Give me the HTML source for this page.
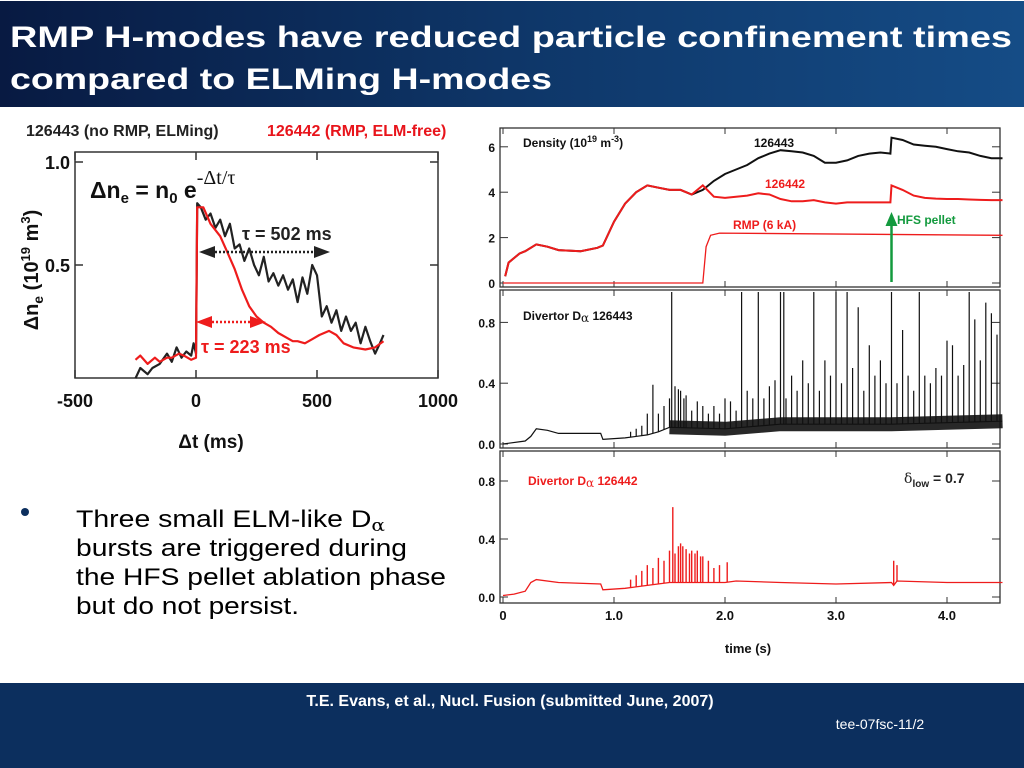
<!DOCTYPE html>
<html><head><meta charset="utf-8"><style>
html,body{margin:0;padding:0;background:#fff;}
svg{display:block;font-family:"Liberation Sans",Arial,sans-serif;}
</style></head><body>
<svg id="s" width="1024" height="768" viewBox="0 0 1024 768" xmlns="http://www.w3.org/2000/svg">
<defs>
<linearGradient id="hg" x1="0" x2="1" y1="0" y2="0"><stop offset="0" stop-color="#081a42"/><stop offset="0.5" stop-color="#0e3668"/><stop offset="1" stop-color="#154c86"/></linearGradient>
</defs>
<rect x="0" y="1" width="1024" height="106" fill="url(#hg)"/>
<text x="10" y="47" fill="#fff" font-size="30" font-weight="bold" textLength="1002" lengthAdjust="spacingAndGlyphs">RMP H-modes have reduced particle confinement times</text>
<text x="10" y="89" fill="#fff" font-size="30" font-weight="bold" textLength="542" lengthAdjust="spacingAndGlyphs">compared to ELMing H-modes</text>
<rect x="0" y="683" width="1024" height="85" fill="#0c2f5e"/>
<text x="510" y="706" fill="#fff" font-size="16" font-weight="bold" text-anchor="middle">T.E. Evans, et al., Nucl. Fusion (submitted June, 2007)</text>
<text x="880" y="729" fill="#fff" font-size="14" text-anchor="middle">tee-07fsc-11/2</text>
<circle cx="25" cy="512" r="4" fill="#0c2f5e"/>
<g font-size="24" fill="#000">
<text x="76" y="527" textLength="309" lengthAdjust="spacingAndGlyphs">Three small ELM-like D<tspan font-size="17" dy="4" font-family="DejaVu Serif">α</tspan></text>
<text x="76" y="556" textLength="331" lengthAdjust="spacingAndGlyphs">bursts are triggered during</text>
<text x="76" y="585" textLength="370" lengthAdjust="spacingAndGlyphs">the HFS pellet ablation phase</text>
<text x="76" y="614" textLength="223" lengthAdjust="spacingAndGlyphs">but do not persist.</text>
</g>
<g id="left"></g>
<g id="right"></g>
</svg>
<script>
// ---- Left chart data ----
const blackT = [-250,-230,-200,-180,-150,-120,-100,-80,-60,-40,-20,-10,0,5,20,40,60,80,100,120,140,160,180,200,220,240,260,280,300,320,340,360,380,400,420,440,460,480,500,520,540,560,580,600,620,640,660,680,700,720,740,760,775];
const blackV = [-0.05,0.0,-0.03,0.0,0.02,0.07,0.03,0.1,0.05,0.08,0.06,0.12,0.07,0.8,0.78,0.72,0.75,0.68,0.72,0.64,0.7,0.58,0.6,0.52,0.58,0.5,0.45,0.54,0.42,0.46,0.4,0.45,0.38,0.43,0.32,0.44,0.36,0.5,0.45,0.25,0.3,0.22,0.28,0.18,0.25,0.18,0.22,0.12,0.2,0.13,0.07,0.12,0.16];
const redT = [-250,-230,-200,-170,-150,-120,-100,-70,-50,-20,0,5,30,60,100,130,160,190,220,250,280,310,340,370,400,420,450,480,510,550,580,610,650,700,740,775];
const redV = [0.04,0.06,0.02,0.05,0.03,0.05,0.05,0.07,0.06,0.04,0.05,0.78,0.78,0.7,0.64,0.56,0.48,0.38,0.3,0.25,0.22,0.2,0.17,0.15,0.13,0.13,0.12,0.14,0.16,0.18,0.16,0.12,0.1,0.09,0.1,0.13];
const leftXTicks = [-500,0,500,1000];
const leftYTicks = [0.5,1.0];
// ---- Right chart data ----
const densT = [0.02,0.05,0.1,0.15,0.2,0.3,0.4,0.5,0.7,0.85,0.9,1.0,1.1,1.2,1.3,1.4,1.5,1.6,1.7,1.8,1.9,2.0,2.1,2.2,2.3,2.4,2.5,2.6,2.7,2.8,2.9,3.0,3.1,3.2,3.3,3.4,3.49,3.5,3.6,3.7,3.8,3.9,4.0,4.1,4.2,4.3,4.4,4.5];
const dens443 = [0.3,0.9,1.1,1.3,1.4,1.7,1.6,1.45,1.4,1.55,1.65,2.7,3.5,4.0,4.3,4.2,4.1,4.1,3.9,4.1,4.5,4.8,5.0,5.2,5.5,5.7,5.85,5.8,5.75,5.6,5.3,5.3,5.4,5.6,5.7,5.75,5.7,6.4,6.3,6.1,6.05,6.0,5.9,5.8,5.75,5.6,5.5,5.5];
const dens442 = [0.3,0.9,1.1,1.3,1.4,1.7,1.6,1.45,1.4,1.55,1.65,2.7,3.5,4.0,4.3,4.2,4.1,4.1,3.9,4.3,3.8,3.75,3.8,3.85,3.95,3.9,3.7,3.6,3.6,3.65,3.55,3.5,3.55,3.55,3.55,3.55,3.55,4.3,4.1,3.85,3.75,3.72,3.7,3.7,3.68,3.66,3.65,3.65];
const rmpT = [0,1.8,1.83,1.87,1.95,4.5];
const rmpV = [0,0,1.6,2.1,2.2,2.1];
const da443BaseT = [0,0.2,0.25,0.3,0.4,0.5,0.88,0.9,1.1,1.3,1.4,1.5,2.0,2.5,3.0,3.5,4.0,4.5];
const da443BaseV = [0.0,0.02,0.05,0.1,0.09,0.07,0.07,0.03,0.04,0.06,0.08,0.11,0.1,0.13,0.13,0.13,0.14,0.15];
const da443SpikeT = [1.15,1.2,1.25,1.3,1.35,1.4,1.45,1.5,1.52,1.55,1.58,1.6,1.63,1.65,1.7,1.75,1.8,1.85,1.9,1.95,2.0,2.05,2.1,2.15,2.2,2.25,2.3,2.35,2.4,2.45,2.5,2.53,2.55,2.6,2.65,2.7,2.75,2.8,2.85,2.9,2.95,3.0,3.05,3.1,3.15,3.2,3.25,3.3,3.35,3.4,3.45,3.5,3.55,3.6,3.65,3.7,3.75,3.8,3.85,3.9,3.95,4.0,4.05,4.1,4.15,4.2,4.25,4.3,4.35,4.4,4.45];
const da443SpikeV = [0.08,0.1,0.12,0.2,0.39,0.2,0.25,0.3,1.0,0.38,0.36,0.35,0.3,0.32,0.22,0.28,0.25,0.2,0.25,0.2,0.3,0.28,0.22,1.0,0.35,0.3,1.0,0.3,0.38,0.42,1.0,1.0,0.3,0.45,0.35,0.55,0.4,1.0,0.35,0.55,0.45,1.0,0.4,1.0,0.5,0.9,0.35,0.65,0.45,0.55,0.4,1.0,0.4,0.75,0.45,0.35,1.0,0.45,0.4,0.5,0.45,0.68,0.65,0.45,0.52,1.0,0.82,0.55,0.93,0.86,0.72];
const da442BaseT = [0,0.1,0.2,0.25,0.3,0.5,0.88,0.9,1.1,1.3,1.5,1.7,2.0,2.1,2.5,3.0,3.5,3.52,3.55,4.0,4.5];
const da442BaseV = [0.01,0.02,0.04,0.1,0.12,0.1,0.09,0.05,0.06,0.08,0.1,0.1,0.1,0.11,0.1,0.09,0.1,0.08,0.11,0.1,0.1];
const da442SpikeT = [1.15,1.2,1.25,1.3,1.35,1.4,1.45,1.5,1.53,1.55,1.58,1.6,1.62,1.65,1.68,1.7,1.73,1.75,1.78,1.8,1.85,1.9,1.95,2.02,3.52,3.55];
const da442SpikeV = [0.12,0.15,0.18,0.22,0.2,0.27,0.25,0.32,0.62,0.3,0.35,0.37,0.35,0.33,0.3,0.32,0.3,0.32,0.28,0.28,0.25,0.2,0.22,0.24,0.25,0.22];
const timeTicks = [0,1,2,3,4];
const timeLabels = ["0","1.0","2.0","3.0","4.0"];
const densTicks = [0,2,4,6];
const daTicks = [0.0,0.4,0.8];

const NS="http://www.w3.org/2000/svg";
function mk(parent,tag,attrs,txt){const e=document.createElementNS(NS,tag);for(const k in attrs)e.setAttribute(k,attrs[k]);if(txt!==undefined)e.textContent=txt;parent.appendChild(e);return e;}
function pathFrom(xs,ys,fx,fy){return xs.map((x,i)=>(i?'L':'M')+fx(x).toFixed(1)+','+fy(ys[i]).toFixed(1)).join('');}

// ---- Left chart ----
const L=document.getElementById('left');
const lx=v=>196+(v)*(121/500);
const ly=v=>368-v*206;
let e;
e=mk(L,'text',{x:26,y:136,'font-size':16,'font-weight':'bold',fill:'#222'},'126443 (no RMP, ELMing)');

e=mk(L,'text',{x:267,y:136,'font-size':16,'font-weight':'bold',fill:'#e8141b'},'126442 (RMP, ELM-free)');

e=mk(L,'rect',{x:75,y:152,width:363,height:226,fill:'none',stroke:'#333','stroke-width':1.5});

leftXTicks.forEach(t=>{const x=lx(t);
 mk(L,'line',{x1:x,x2:x,y1:152,y2:160,stroke:'#333','stroke-width':1.5});
 mk(L,'line',{x1:x,x2:x,y1:370,y2:378,stroke:'#333','stroke-width':1.5});
 e=mk(L,'text',{x:x,y:407,'font-size':18,'font-weight':'bold','text-anchor':'middle',fill:'#111'},String(t));
 });
leftYTicks.forEach(t=>{const y=ly(t);
 mk(L,'line',{x1:75,x2:83,y1:y,y2:y,stroke:'#333','stroke-width':1.5});
 mk(L,'line',{x1:430,x2:438,y1:y,y2:y,stroke:'#333','stroke-width':1.5});
 e=mk(L,'text',{x:70,y:y+7,'font-size':18,'font-weight':'bold','text-anchor':'end',fill:'#111'},t.toFixed(1));
 });
e=mk(L,'text',{x:211,y:448,'font-size':19,'font-weight':'bold','text-anchor':'middle',fill:'#111'},'Δt (ms)');

e=mk(L,'text',{x:0,y:0,'font-size':20,'font-weight':'bold','text-anchor':'middle',fill:'#111',transform:'translate(38,270) rotate(-90)'});
e.innerHTML='Δn<tspan font-size="14" dy="5">e</tspan><tspan dy="-5"> (10</tspan><tspan font-size="13" dy="-8">19</tspan><tspan dy="8"> m</tspan><tspan font-size="13" dy="-8">3</tspan><tspan dy="8">)</tspan>';

e=mk(L,'text',{x:90,y:198,'font-size':23,'font-weight':'bold',fill:'#111'});
e.innerHTML='Δn<tspan font-size="15" dy="5">e</tspan><tspan dy="-5"> = n</tspan><tspan font-size="15" dy="5">0</tspan><tspan dy="-5"> e</tspan><tspan font-size="20" dy="-14" font-family="Liberation Serif" font-weight="normal">-Δt/τ</tspan>';

e=mk(L,'path',{d:pathFrom(blackT,blackV,lx,ly),fill:'none',stroke:'#222','stroke-width':2.2,'stroke-linejoin':'round'});

e=mk(L,'path',{d:pathFrom(redT,redV,lx,ly),fill:'none',stroke:'#ee1c1c','stroke-width':2.2,'stroke-linejoin':'round'});

function dblArrow(x1,x2,y,col,name){const g=mk(L,'g',{});
 mk(g,'line',{x1:x1+12,x2:x2-12,y1:y,y2:y,stroke:col,'stroke-width':2.5,'stroke-dasharray':'2,2'});
 mk(g,'polygon',{points:`${x1},${y} ${x1+16},${y-6} ${x1+16},${y+6}`,fill:col});
 mk(g,'polygon',{points:`${x2},${y} ${x2-16},${y-6} ${x2-16},${y+6}`,fill:col});}
dblArrow(199,330,252,'#222','tau-502-arrow');
dblArrow(196,266,322,'#ee1c1c','tau-223-arrow');
e=mk(L,'text',{x:242,y:240,'font-size':18,'font-weight':'bold',fill:'#222'},'τ = 502 ms');

e=mk(L,'text',{x:201,y:353,'font-size':18,'font-weight':'bold',fill:'#ee1c1c'},'τ = 223 ms');


// ---- Right chart ----
const R=document.getElementById('right');
const tx=t=>503+t*111;
const panels=[{y0:128,y1:287,zero:283,scale:22.7,ticks:densTicks,fmt:v=>String(v),name:'density-panel'},
 {y0:290,y1:448,zero:444,scale:152,ticks:daTicks,fmt:v=>v.toFixed(1),name:'dalpha-126443-panel'},
 {y0:451,y1:603,zero:597,scale:145,ticks:daTicks,fmt:v=>v.toFixed(1),name:'dalpha-126442-panel'}];
panels.forEach(p=>{p.fy=v=>p.zero-v*p.scale;
 e=mk(R,'rect',{x:500,y:p.y0,width:500,height:p.y1-p.y0,fill:'none',stroke:'#333','stroke-width':1.3});
 
 p.ticks.forEach(t=>{const y=p.fy(t);
  mk(R,'line',{x1:500,x2:508,y1:y,y2:y,stroke:'#333'});mk(R,'line',{x1:992,x2:1000,y1:y,y2:y,stroke:'#333'});
  e=mk(R,'text',{x:495,y:y+5,'font-size':12,'font-weight':'bold','text-anchor':'end',fill:'#111'},p.fmt(t));
  });
 timeTicks.forEach(t=>{const x=tx(t);
  mk(R,'line',{x1:x,x2:x,y1:p.y1-6,y2:p.y1,stroke:'#333'});mk(R,'line',{x1:x,x2:x,y1:p.y0,y2:p.y0+6,stroke:'#333'});});
});
timeTicks.forEach((t,i)=>{e=mk(R,'text',{x:tx(t),y:620,'font-size':13,'font-weight':'bold','text-anchor':'middle',fill:'#111'},timeLabels[i]);
 });
e=mk(R,'text',{x:748,y:653,'font-size':13,'font-weight':'bold','text-anchor':'middle',fill:'#111'},'time (s)');

const P0=panels[0],P1=panels[1],P2=panels[2];
e=mk(R,'path',{d:pathFrom(rmpT,rmpV,tx,P0.fy),fill:'none',stroke:'#ee1c1c','stroke-width':1.3});

e=mk(R,'path',{d:pathFrom(densT,dens443,tx,P0.fy),fill:'none',stroke:'#111','stroke-width':2});

e=mk(R,'path',{d:pathFrom(densT,dens442,tx,P0.fy),fill:'none',stroke:'#ee1c1c','stroke-width':2});

e=mk(R,'text',{x:523,y:147,'font-size':12,'font-weight':'bold',fill:'#111'});
e.innerHTML='Density  (10<tspan font-size="9" dy="-5">19</tspan><tspan dy="5"> m</tspan><tspan font-size="9" dy="-5">-3</tspan><tspan dy="5">)</tspan>';

e=mk(R,'text',{x:754,y:147,'font-size':12,'font-weight':'bold',fill:'#111'},'126443');

e=mk(R,'text',{x:765,y:188,'font-size':12,'font-weight':'bold',fill:'#ee1c1c'},'126442');

e=mk(R,'text',{x:733,y:229,'font-size':12,'font-weight':'bold',fill:'#ee1c1c'},'RMP (6 kA)');

e=mk(R,'g',{});
mk(e,'line',{x1:tx(3.5),x2:tx(3.5),y1:282,y2:224,stroke:'#139a3e','stroke-width':2.5});
mk(e,'polygon',{points:`${tx(3.5)},${212} ${tx(3.5)-6},${226} ${tx(3.5)+6},${226}`,fill:'#139a3e'});
e=mk(R,'text',{x:897,y:224,'font-size':12,'font-weight':'bold',fill:'#139a3e'},'HFS pellet');

// Dalpha 126443
e=mk(R,'path',{d:pathFrom(da443BaseT,da443BaseV,tx,P1.fy),fill:'none',stroke:'#111','stroke-width':1.2});

e=mk(R,'path',{d:pathFrom(da443BaseT.slice(11),da443BaseV.slice(11),tx,P1.fy),fill:'none',stroke:'#111','stroke-width':14,opacity:0.9});

function interp(ts,vs,t){for(let i=1;i<ts.length;i++)if(t<=ts[i]){const f=(t-ts[i-1])/(ts[i]-ts[i-1]);return vs[i-1]+f*(vs[i]-vs[i-1]);}return vs[vs.length-1];}
let d='';da443SpikeT.forEach((t,i)=>{const b=interp(da443BaseT,da443BaseV,t);d+=`M${tx(t).toFixed(1)},${P1.fy(b).toFixed(1)}V${Math.max(P1.y0,P1.fy(da443SpikeV[i])).toFixed(1)}`;});
e=mk(R,'path',{d:d,fill:'none',stroke:'#111','stroke-width':1.2});

e=mk(R,'text',{x:523,y:320,'font-size':12,'font-weight':'bold',fill:'#111'});
e.innerHTML='Divertor D<tspan font-family="DejaVu Serif" font-weight="normal" dy="2">α</tspan><tspan dy="-2">  126443</tspan>';

// Dalpha 126442
e=mk(R,'path',{d:pathFrom(da442BaseT,da442BaseV,tx,P2.fy),fill:'none',stroke:'#ee1c1c','stroke-width':1.3});

d='';da442SpikeT.forEach((t,i)=>{const b=interp(da442BaseT,da442BaseV,t);d+=`M${tx(t).toFixed(1)},${P2.fy(b).toFixed(1)}V${P2.fy(da442SpikeV[i]).toFixed(1)}`;});
e=mk(R,'path',{d:d,fill:'none',stroke:'#ee1c1c','stroke-width':1.4});

e=mk(R,'text',{x:528,y:485,'font-size':12,'font-weight':'bold',fill:'#ee1c1c'});
e.innerHTML='Divertor D<tspan font-family="DejaVu Serif" font-weight="normal" dy="2">α</tspan><tspan dy="-2">  126442</tspan>';

e=mk(R,'text',{x:904,y:483,'font-size':14,'font-weight':'bold',fill:'#222'});
e.innerHTML='<tspan font-family="DejaVu Serif" font-weight="normal">δ</tspan><tspan font-size="10" dy="4">low</tspan><tspan dy="-4"> = 0.7</tspan>';

</script>
</body></html>
